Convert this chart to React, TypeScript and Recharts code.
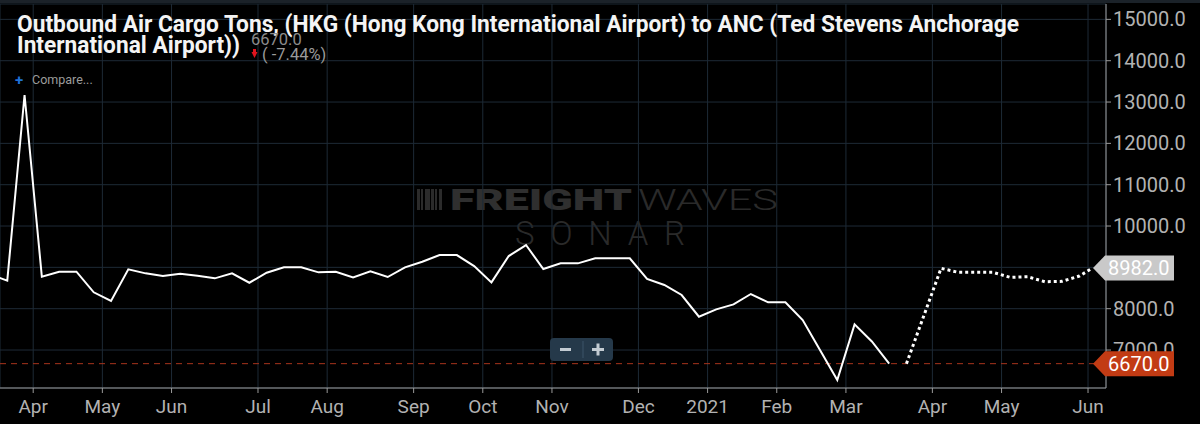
import { LineChart, Line, XAxis, YAxis, CartesianGrid, ReferenceLine } from "recharts";

// weekly tons, first week sits just left of the visible window
const tons = [
  8830, 8677, 13170, 8774, 8895, 8895, 8396, 8186, 8952, 8855, 8790, 8846, 8798, 8734,
  8855, 8628, 8871, 9000, 9000, 8879, 8895, 8758, 8903, 8766, 9000, 9137, 9298, 9298,
  9032, 8637, 9274, 9540, 8960, 9097, 9097, 9218, 9218, 9218, 8718, 8573, 8331, 7806,
  7984, 8105, 8355, 8153, 8153, 7726, 7000, 6274, 7621, 7206, 6670,
];
const firstWeek = -1;

// projection (dotted)
const forecastWeeks = [52, 54, 55, 56, 57, 58, 59, 60, 61, 62, 62.75];
const forecastTons = [6670, 8976, 8880, 8880, 8880, 8758, 8774, 8653, 8661, 8790, 8982];

const monthTicks = [1.5, 5.5, 9.5, 14.5, 18.5, 23.5, 27.5, 31.5, 36.5, 40.5, 44.5, 48.5, 53.5, 57.5, 62.5];
const monthLabels = ["Apr", "May", "Jun", "Jul", "Aug", "Sep", "Oct", "Nov", "Dec", "2021", "Feb", "Mar", "Apr", "May", "Jun"];

const yTicks = [7000, 8000, 9000, 10000, 11000, 12000, 13000, 14000, 15000];

const lastValue = 6670;
const forecastLast = 8982;

const X_DOMAIN: [number, number] = [-0.42, 63.54];
const Y_DOMAIN: [number, number] = [6081, 15372];

const actualData = tons.map((v, i) => ({ week: firstWeek + i, tons: v }));
const forecastData = forecastWeeks.map((w, i) => ({ week: w, tons: forecastTons[i] }));

const GRID = "#1d2a36";
const AXIS = "#9a9a9a";
const TICK_TEXT = "#b2b2b2";

function tag(fill: string, text: string) {
  return (props: any) => {
    const vb = props.viewBox || {};
    const right = (vb.x ?? 0) + (vb.width ?? 0);
    const y = vb.y ?? 0;
    const tip = right - 13;
    const body = right - 1;
    const end = right + 68;
    const h = 12.5;
    return (
      <g>
        <polygon
          points={`${tip},${y} ${body},${y - h} ${end},${y - h} ${end},${y + h} ${body},${y + h}`}
          fill={fill}
        />
        <text x={body + 3} y={y + 7} fill="#ffffff" fontSize={20} fontFamily="Roboto">
          {text}
        </text>
      </g>
    );
  };
}

function Watermark() {
  const bars = [0, 4, 8, 11, 14, 18, 22];
  return (
    <svg width={1200} height={424} style={{ position: "absolute", left: 0, top: 0 }}>
      {bars.map((b, i) => (
        <rect key={i} x={417 + b} y={189} width={i % 2 ? 2 : 3} height={21} fill="#2b2b2b" />
      ))}
      <text x={450} y={210} fontFamily="Roboto" fontWeight={900} fontSize={30} fill="#2f2f2f" textLength={182} lengthAdjust="spacingAndGlyphs">
        FREIGHT
      </text>
      <text x={638} y={210} fontFamily="Roboto" fontWeight={300} fontSize={30} fill="#2a2a2a" textLength={140} lengthAdjust="spacingAndGlyphs">
        WAVES
      </text>
      <text x={515} y={245} fontFamily="Roboto" fontWeight={300} fontSize={33} fill="#2a2a2a" textLength={170} lengthAdjust="spacing">
        SONAR
      </text>
    </svg>
  );
}

function Header() {
  return (
    <svg width={1200} height={424} style={{ position: "absolute", left: 0, top: 0, pointerEvents: "none" }}>
      <rect x={0} y={0} width={1200} height={3} fill="#1b2229" />
      <text x={17} y={31.7} fontFamily="Roboto" fontWeight={700} fontSize={23.5} fill="#f4f4f4" textLength={1002} lengthAdjust="spacingAndGlyphs">
        Outbound Air Cargo Tons, (HKG (Hong Kong International Airport) to ANC (Ted Stevens Anchorage
      </text>
      <text x={17} y={52.7} fontFamily="Roboto" fontWeight={700} fontSize={23.5} fill="#f4f4f4" textLength={223} lengthAdjust="spacingAndGlyphs">
        International Airport))
      </text>
      <text x={251} y={45} fontFamily="Roboto" fontSize={16.5} fill="#8c8c8c">
        6670.0
      </text>
      <polygon points="251.5,52 257.5,52 254.5,58" fill="#e0141e" />
      <rect x={253} y={49} width={3} height={4} fill="#e0141e" />
      <text x={262} y={60} fontFamily="Roboto" fontSize={16.5} fill="#9a9a9a">
        ( -7.44%)
      </text>
      <text x={15} y={85} fontFamily="Roboto" fontWeight={700} fontSize={15} fill="#1f72d6">
        +
      </text>
      <text x={32} y={84} fontFamily="Roboto" fontSize={12.5} fill="#9c9c9c">
        Compare...
      </text>
      <rect x={550} y={338} width={63} height={23} rx={4} fill="#25394a" />
      <line x1={583} y1={341} x2={583} y2={358} stroke="#3d5568" strokeWidth={1} />
      <rect x={560} y={348} width={11} height={3} fill="#c3cbd2" />
      <rect x={592} y={348} width={12} height={3} fill="#c3cbd2" />
      <rect x={596.5} y={343.5} width={3} height={12} fill="#c3cbd2" />
    </svg>
  );
}

// price tags sit on top of the axis labels, so they get their own chart layer
function Tags() {
  return (
    <div style={{ position: "absolute", left: 0, top: 0 }}>
      <LineChart width={1200} height={424} data={[]} margin={{ top: 4, right: 94, bottom: 36, left: 0 }}>
        <XAxis dataKey="week" type="number" domain={X_DOMAIN} allowDataOverflow hide />
        <YAxis type="number" domain={Y_DOMAIN} allowDataOverflow hide />
        <ReferenceLine y={lastValue} stroke="none" strokeOpacity={0} label={tag("#c23b14", "6670.0")} />
        <ReferenceLine y={forecastLast} stroke="none" strokeOpacity={0} label={tag("#c9c9c9", "8982.0")} />
      </LineChart>
    </div>
  );
}

export default function App() {
  return (
    <div style={{ position: "fixed", left: 0, top: 0, width: 1200, height: 424, background: "#000", overflow: "hidden" }}>
      <Watermark />
      <div style={{ position: "absolute", left: 0, top: 0 }}>
        <LineChart width={1200} height={424} margin={{ top: 4, right: 0, bottom: 0, left: 0 }}>
          <CartesianGrid stroke={GRID} strokeWidth={1} />
          <XAxis
            dataKey="week"
            type="number"
            domain={X_DOMAIN}
            allowDataOverflow
            ticks={monthTicks}
            tickFormatter={(v: number) => monthLabels[monthTicks.indexOf(v)] ?? ""}
            height={36}
            stroke={AXIS}
            tickSize={5}
            tickMargin={7}
            tick={{ fill: TICK_TEXT, fontSize: 19, fontFamily: "Roboto" }}
            interval={0}
          />
          <YAxis
            orientation="right"
            width={94}
            domain={Y_DOMAIN}
            allowDataOverflow
            ticks={yTicks}
            tickFormatter={(v: number) => v.toFixed(1)}
            stroke={AXIS}
            tickSize={5}
            tickMargin={2}
            tick={{ fill: TICK_TEXT, fontSize: 20, fontFamily: "Roboto" }}
            interval={0}
          />
          <ReferenceLine y={lastValue} stroke="#a8331c" strokeWidth={1} strokeDasharray="6 5" />
          <Line
            data={actualData}
            dataKey="tons"
            type="linear"
            stroke="#ffffff"
            strokeWidth={2}
            dot={false}
            isAnimationActive={false}
          />
          <Line
            data={forecastData}
            dataKey="tons"
            type="linear"
            stroke="#ffffff"
            strokeWidth={3}
            strokeDasharray="3 3"
            dot={false}
            isAnimationActive={false}
          />
        </LineChart>
      </div>
      <Tags />
      <Header />
    </div>
  );
}
